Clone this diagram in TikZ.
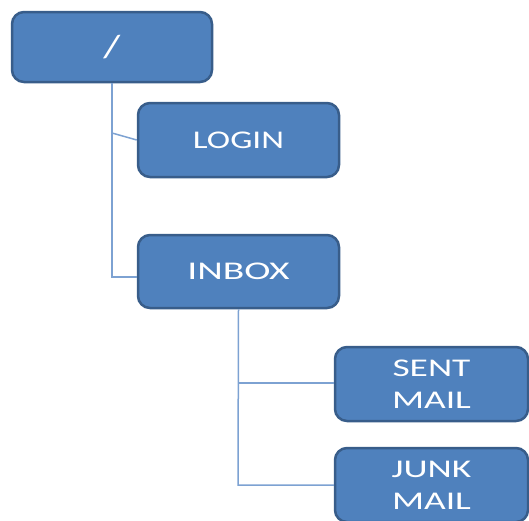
\documentclass[tikz,border=0pt]{standalone}
\usepackage{fontspec}
\setmainfont{Carlito}
\newfontfamily\wideA[FakeStretch=1.38]{Carlito}
\newfontfamily\wideB[FakeStretch=1.55]{Carlito}
\newfontfamily\wideC[FakeStretch=1.47]{Carlito}
\definecolor{boxfill}{HTML}{4F81BD}
\definecolor{boxline}{HTML}{385D8A}
\definecolor{conn}{HTML}{7DA2D2}
\begin{document}
\begin{tikzpicture}[x=1pt,y=-1pt,
  box/.style={draw=boxline, line width=2.5pt, fill=boxfill, rounded corners=12pt,
    text=white, align=center, inner sep=0pt},
  conn/.style={draw=conn, line width=1.5pt}]
\useasboundingbox (0,0) rectangle (529,520);
\clip (0,0) rectangle (529,520);
\node[box, minimum width=200pt, minimum height=70pt, font=\wideA\fontsize{32}{34}\selectfont] (root) at (112,47) {/};
\node[box, minimum width=201pt, minimum height=74pt, font=\wideA\fontsize{25.5}{32}\selectfont] (login) at (238.5,140) {LOGIN};
\node[box, minimum width=201pt, minimum height=73pt, font=\wideB\fontsize{25.5}{32}\selectfont] (inbox) at (238.5,271.5) {INBOX};
\node[box, minimum width=193pt, minimum height=74pt, font=\wideC\fontsize{25.5}{32}\selectfont] (sent) at (431.5,384) {SENT\\MAIL};
\node[box, minimum width=193pt, minimum height=74pt, font=\wideC\fontsize{25.5}{32}\selectfont] (junk) at (431.5,485) {JUNK\\MAIL};
\coordinate (lj) at (112,133);
\coordinate (ij) at (112,277);
\coordinate (sj) at (238,383);
\coordinate (jj) at (238,485);
\draw[conn] (root.south) -- (ij) -- (ij -| inbox.west);
\draw[conn] (lj) -- (login.west);
\draw[conn] (inbox.south) -- (jj) -- (junk.west);
\draw[conn] (sj) -- (sent.west |- sj);
\end{tikzpicture}
\end{document}
